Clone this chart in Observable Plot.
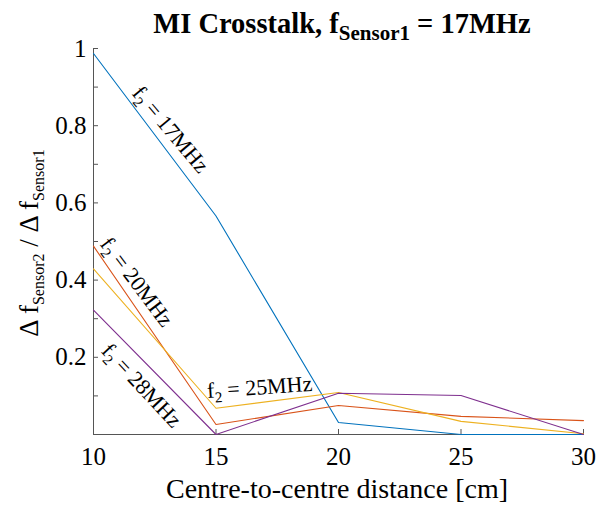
<!DOCTYPE html>
<html>
<head>
<meta charset="utf-8">
<script src="https://cdn.jsdelivr.net/npm/d3@7"></script>
<script src="https://cdn.jsdelivr.net/npm/@observablehq/plot@0.6"></script>
<style>
  body { margin: 0; background: #fff; }
  svg { display: block; }
</style>
</head>
<body>
<div id="chart"></div>
<script>
// ---- data ----
const distance = [10, 15, 20, 25, 30];
const seriesNames = ["17MHz", "20MHz", "25MHz", "28MHz"];
const seriesColors = ["#0072BD", "#D95319", "#EDB120", "#7E2F8E"];
const ratio17 = [0.987, 0.566, 0.031, 0.000, 0.000];
const ratio20 = [0.488, 0.026, 0.075, 0.047, 0.036];
const ratio25 = [0.429, 0.068, 0.109, 0.034, 0.002];
const ratio28 = [0.322, 0.000, 0.107, 0.101, 0.000];

const xTicks = [10, 15, 20, 25, 30];
const yTicksMinor = [0.1, 0.2, 0.3, 0.4, 0.5, 0.6, 0.7, 0.8, 0.9, 1];
const yTickLabels = [0.2, 0.4, 0.6, 0.8, 1];

// annotation labels (data coordinates + rotation)
const annSeries = ["17MHz", "20MHz", "25MHz", "28MHz"];
const annX = [13.14, 11.76, 16.78, 11.96];
const annY = [0.79, 0.395, 0.122, 0.127];
const annAngle = [50, 53, -4, 47];

const titleMain = "MI Crosstalk, f";
const titleSub = "Sensor1";
const titleEnd = " = 17MHz";
const xLabel = "Centre-to-centre distance [cm]";

const FONT = "Liberation Serif";

// ---- build ----
const allRatios = [ratio17, ratio20, ratio25, ratio28];
const rows = seriesNames.flatMap((s, i) =>
  distance.map((d, j) => ({ series: s, distance: d, ratio: allRatios[i][j] })));
const ann = annSeries.map((s, i) => ({ text: "f\u2082 = " + s, x: annX[i], y: annY[i], a: annAngle[i] }));

const axisColor = "#555";
const chart = Plot.plot({
  width: 602,
  height: 505,
  marginTop: 48,
  marginLeft: 93,
  marginRight: 19,
  marginBottom: 71,
  style: { fontFamily: FONT, color: "#000", background: "#fff" },
  x: { domain: [10, 30] },
  y: { domain: [0, 1] },
  color: { domain: seriesNames, range: seriesColors },
  marks: [
    Plot.ruleX([10], { stroke: axisColor }),
    Plot.ruleY([0], { stroke: axisColor }),
    Plot.axisX({ ticks: xTicks, tickSize: -5, fill: "none", stroke: axisColor, label: null }),
    Plot.axisX({ ticks: xTicks, tickSize: 0, tickPadding: 13, fontSize: 25, fill: "#000", tickFormat: "~g", label: null }),
    Plot.axisY({ ticks: yTicksMinor, tickSize: -5, fill: "none", stroke: axisColor, label: null }),
    Plot.axisY({ ticks: yTickLabels, tickSize: 0, tickPadding: 7, fontSize: 25, fill: "#000", tickFormat: "~g", label: null }),
    Plot.line(rows, { x: "distance", y: "ratio", z: "series", stroke: "series", strokeWidth: 1.1 }),
    Plot.text(ann, { x: "x", y: "y", text: "text", rotate: "a", fontSize: 22, fill: "#000", className: "ann" })
  ]
});
document.getElementById("chart").appendChild(chart);

const svg = d3.select(chart);

// subscripts in annotations
svg.selectAll(".ann text").each(function () {
  const t = d3.select(this);
  const parts = this.textContent.split("\u2082");
  t.text(null);
  t.append("tspan").text(parts[0]);
  t.append("tspan").attr("font-size", 15).attr("dy", 5).text("2");
  t.append("tspan").attr("dy", -5).text(parts[1]);
});

// title
const tt = svg.append("text")
  .attr("x", 342).attr("y", 33)
  .attr("text-anchor", "middle")
  .attr("font-family", FONT)
  .attr("font-weight", "bold")
  .attr("font-size", 28.5)
  .attr("fill", "#000");
tt.append("tspan").text(titleMain);
tt.append("tspan").attr("font-size", 21).attr("dy", 7).text(titleSub);
tt.append("tspan").attr("dy", -7).text(titleEnd);

// y label with subscripts
const yl = svg.append("text")
  .attr("transform", "translate(38,243) rotate(-90)")
  .attr("text-anchor", "middle")
  .attr("font-family", FONT)
  .attr("font-size", 27)
  .attr("fill", "#000");
yl.append("tspan").text("\u0394 f");
yl.append("tspan").attr("font-size", 16).attr("dy", 6).text("Sensor2");
yl.append("tspan").attr("dy", -6).text(" / \u0394 f");
yl.append("tspan").attr("font-size", 16).attr("dy", 6).text("Sensor1");

// x label
svg.append("text")
  .attr("x", 337).attr("y", 498)
  .attr("text-anchor", "middle")
  .attr("font-family", FONT)
  .attr("font-size", 28)
  .attr("fill", "#000")
  .text(xLabel);
</script>
</body>
</html>
